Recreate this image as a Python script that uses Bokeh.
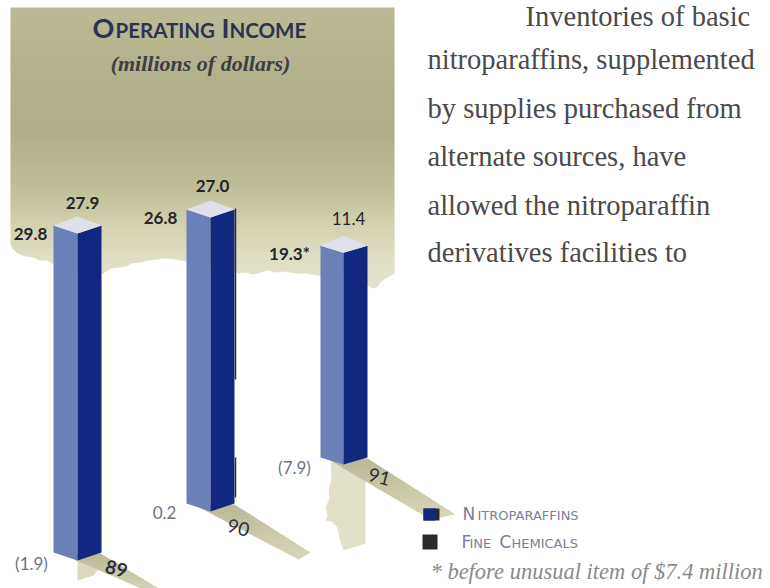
from bokeh.core.properties import value
from bokeh.embed import file_html
from bokeh.models import Range1d
from bokeh.plotting import figure
from bokeh.resources import INLINE

# Operating income by year, millions of dollars
YEARS = ["89", "90", "91"]
NITROPARAFFINS = [29.8, 26.8, 19.3]
FINE_CHEMICALS = [-1.9, 0.2, -7.9]
TOTALS = [27.9, 27.0, 11.4]
SERIES = ["Nitroparaffins", "Fine Chemicals"]
BODY_LINES = [
    "Inventories of basic",
    "nitroparaffins, supplemented",
    "by supplies purchased from",
    "alternate sources, have",
    "allowed the nitroparaffin",
    "derivatives facilities to",
]
FOOTNOTE = "* before unusual item of $7.4 million"

# Page geometry: one income unit takes this many pixels of bar height
W, H = 770, 588
PX_PER_UNIT = 10.97


def vy(py):
    """Screen row to the value scale used on the y axis."""
    return (H - py) / PX_PER_UNIT


p = figure(
    width=W, height=H, output_backend="svg", toolbar_location=None,
    x_range=Range1d(0, W), y_range=Range1d(0, H / PX_PER_UNIT),
    min_border=0, outline_line_color=None, background_fill_color="white",
)
p.axis.visible = False
p.grid.visible = False


def lerp(a, b, t):
    return a + (b - a) * t


def mix(c1, c2, t):
    return "#%02x%02x%02x" % tuple(round(lerp(x, y, t)) for x, y in zip(c1, c2))


# Backdrop panel: vertical wash of khaki, with a torn lower edge cut out in white
WASH_STOPS = [
    (7, (188, 186, 150)), (60, (180, 178, 140)), (130, (176, 174, 134)),
    (185, (192, 190, 152)), (225, (212, 210, 176)), (255, (224, 222, 196)),
    (292, (228, 226, 204)),
]
row = WASH_STOPS[0][0]
while row < 288:
    for (r0, c0), (r1, c1) in zip(WASH_STOPS, WASH_STOPS[1:]):
        if r0 <= row < r1:
            color = mix(c0, c1, (row - r0) / (r1 - r0))
    p.quad(left=10, right=394, top=vy(row), bottom=vy(row + 5), fill_color=color, line_color=None)
    row += 4

TORN_EDGE = [
    (8, 241), (12, 248), (17, 253), (25, 256), (32, 257), (40, 260), (47, 260), (53, 264),
    (101, 274), (106, 271), (110, 268), (118, 267), (126, 266), (131, 263), (140, 262),
    (148, 260), (156, 259), (165, 258), (175, 259), (186, 261), (234, 271), (238, 273),
    (245, 272), (252, 274), (260, 272), (268, 270), (276, 272), (285, 271), (295, 273),
    (305, 273), (317, 275), (330, 276), (345, 277), (367, 285), (372, 288), (376, 287),
    (381, 281), (387, 277), (396, 272),
]
p.patch(
    x=[q[0] for q in TORN_EDGE] + [396, 8],
    y=[vy(q[1]) for q in TORN_EDGE] + [vy(300), vy(300)],
    fill_color="white", line_color=None,
)

# Column positions: left edge, spine, right edge and the row of the spine's foot
COL_LEFT = [53, 186, 320]
COL_MID = [77, 210, 343]
COL_RIGHT = [101, 234, 367]
FOOT_ROW = [560, 511, 464]
SIDE_RISE = [8, 8, 7]
CAP_RISE = 17

# Ground shadows fall toward the lower right and fade with distance
SHADOWS = [
    [(62, 554), (100, 553), (165, 592), (150, 592)],
    [(195, 505), (234, 504), (310, 552), (298, 559)],
    [(326, 458), (367, 458), (455, 514), (430, 519)],
]
NEAR, FAR = (188, 185, 150), (216, 214, 186)

# Pale cast patches under the first and third columns
p.patch(x=[77, 77, 93, 100, 80], y=[vy(q) for q in (560, 580, 575, 566, 556)],
        fill_color="#dcdabd", line_color=None)
CAST_91 = [(330, 462), (331, 478), (328, 490), (329, 498), (325, 507), (327, 515),
           (325, 520), (331, 521), (337, 527), (339, 538), (343, 550), (365, 543), (365, 462)]
p.patch(x=[q[0] for q in CAST_91], y=[vy(q[1]) for q in CAST_91],
        fill_color="#e2e0c8", line_color=None)

for a, b, c, d in SHADOWS:
    steps = 14
    for i in range(steps):
        t0, t1 = i / steps, (i + 1.15) / steps
        t1 = min(t1, 1)
        xs = [lerp(a[0], d[0], t0), lerp(b[0], c[0], t0), lerp(b[0], c[0], t1), lerp(a[0], d[0], t1)]
        ys = [lerp(a[1], d[1], t0), lerp(b[1], c[1], t0), lerp(b[1], c[1], t1), lerp(a[1], d[1], t1)]
        p.patch(x=xs, y=[vy(v) for v in ys], fill_color=mix(NEAR, FAR, i / steps), line_color=None)

# The three columns: height comes from the nitroparaffins figure
for i, height in enumerate(NITROPARAFFINS):
    lx, mx, rx = COL_LEFT[i], COL_MID[i], COL_RIGHT[i]
    foot = vy(FOOT_ROW[i])
    head = foot + height
    side = SIDE_RISE[i] / PX_PER_UNIT
    cap = CAP_RISE / PX_PER_UNIT
    p.patch(x=[lx, mx, mx, lx], y=[foot + side, foot, head, head + side],
            fill_color="#6c80b8", line_color=None)
    p.patch(x=[mx, rx, rx, mx], y=[foot, foot + side, head + side, head],
            fill_color="#12277f", line_color=None)
    p.patch(x=[lx, mx, rx, mx], y=[head + side, head, head + side, head + cap],
            fill_color="#dfe0ea", line_color=None)

# Sliver of the fine chemicals figure along the 1990 column
p.segment(x0=[235, 235], x1=[235, 235], y0=[vy(208), vy(457)], y1=[vy(379), vy(497)],
          line_color="#2e2e3a", line_width=1.5)

SANS = value("Lato")
WIDE_SANS = value("DejaVu Sans")
SERIF = value("Liberation Serif")


def label(x, row, text, size, color, font=SANS, style="normal", align="center", angle=0):
    p.text(x=[x], y=[vy(row)], text=[text], text_font=font, text_font_style=style,
           text_font_size=f"{size}px", text_color=color, text_align=align,
           text_baseline="middle", angle=angle)


# Small-capital headings are set as runs of two sizes on one baseline
def small_caps(runs, foot_row, big, small, color, font=SANS, style="normal"):
    for x, text, is_big in runs:
        size = big if is_big else small
        label(x, foot_row - 0.37 * size, text, size, color, font=font, style=style, align="left")


small_caps([(92, "O", True), (115, "PERATING", False), (221, "I", True), (229, "NCOME", False)],
           37, 27, 20.5, "#2b3252", style="bold")
label(200, 63, "(millions of dollars)", 22, "#3c3e44", font=SERIF, style="bold italic")

# Value labels
NITRO_POS = [(30, 233), (160, 217), (289, 253)]
TOTAL_POS = [(82, 202), (212, 185), (348, 218)]
FINE_POS = [(31, 563), (164, 512), (294, 467)]
YEAR_POS = [(116, 568), (238, 527), (379, 476)]

for i in range(3):
    mark = "*" if YEARS[i] == "91" else ""
    label(*NITRO_POS[i], f"{NITROPARAFFINS[i]:.1f}{mark}", 17, "#24262e", style="bold")
    label(*TOTAL_POS[i], f"{TOTALS[i]:.1f}", 17, "#24262e", style="bold" if i < 2 else "normal")
    fine = FINE_CHEMICALS[i]
    text = f"({abs(fine):.1f})" if fine < 0 else f"{fine:.1f}"
    label(*FINE_POS[i], text, 17, "#6b7486")
    label(*YEAR_POS[i], YEARS[i], 19, "#2b2f3a", style="bold" if i == 0 else "normal", angle=-0.25)

# Legend
p.quad(left=[423], right=[439], top=[vy(508)], bottom=[vy(520)], fill_color="#2a2a2a", line_color=None)
p.quad(left=[423], right=[435], top=[vy(508)], bottom=[vy(520)], fill_color="#12277f", line_color=None)
p.quad(left=[422], right=[437], top=[vy(534)], bottom=[vy(549)], fill_color="#2a2a2a", line_color=None)
small_caps([(462, SERIES[0][0], True), (477, SERIES[0][1:].upper(), False)], 520, 17, 13, "#7a8098", font=WIDE_SANS)
first, second = SERIES[1].split()
small_caps([(461, first[0], True), (469, first[1:].upper(), False),
           (499, second[0], True), (511, second[1:].upper(), False)], 548, 17, 13, "#7a8098", font=WIDE_SANS)

# Running text beside the panel
BODY_ROWS = [16, 59, 108, 156, 205, 252]
BODY_X = [525, 427, 427, 427, 427, 427]
for x, row, line in zip(BODY_X, BODY_ROWS, BODY_LINES):
    label(x, row, line, 28.5, "#4a4a4a", font=SERIF, align="left")

label(430, 571, FOOTNOTE, 22.5, "#8a8a8a", font=SERIF, style="italic", align="left")

open("out.html", "w").write(file_html(p, INLINE))
